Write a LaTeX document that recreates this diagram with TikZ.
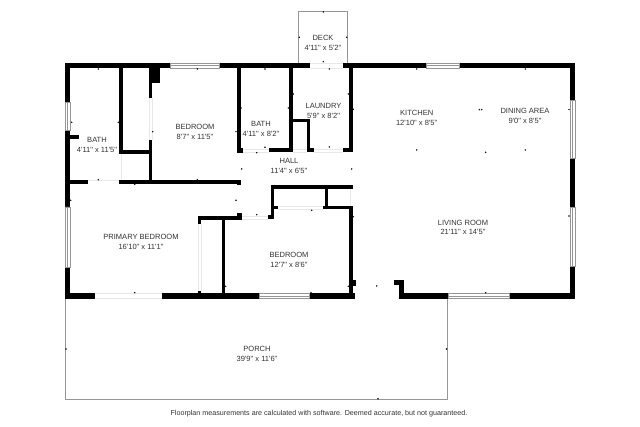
\documentclass[tikz,border=0pt]{standalone}
\usepackage{fontspec}
\setmainfont{Liberation Sans}[Ligatures=TeXOff]
\usepackage{tikz}

\tikzset{
	wall/.style={fill=black},
	pane/.style={draw={rgb, 255:red, 150; green, 150; blue, 150 },fill=white,line width=0.45},
	outline/.style={draw={rgb, 255:red, 150; green, 150; blue, 150 },line width=0.6},
	sill/.style={draw={rgb, 255:red, 232; green, 232; blue, 232 },line width=0.4},
	tick/.style={fill=black},
	room/.style={align=center,inner sep=0pt,text={rgb, 255:red, 50; green, 50; blue, 50 },font=\fontsize{5.65}{7.3}\selectfont},
}

\begin{document}
\begin{tikzpicture}[x=0.75pt,y=0.75pt,yscale=-1,xscale=1]
	\useasboundingbox (0,0) rectangle (640,427);
	
	%Deck and porch outlines
	\draw [outline] (298.3,62.7) -- (298.3,11.5) -- (347.7,11.5) -- (347.7,62.7) ;
	\draw [outline] (65.4,298) -- (65.4,399) -- (447.5,399) -- (447.5,298) ;
	
	%Door sills
	\draw [sill] (95,293) -- (162,293) (95,298) -- (162,298) ;
	\draw [sill] (148.8,98) -- (148.8,140) (152,98) -- (152,140) ;
	\draw [sill] (121.5,154) -- (121.5,181) ;
	\draw [sill] (88,180.5) -- (119,180.5) ;
	\draw [sill] (242,148.8) -- (269,148.8) (242,152) -- (269,152) ;
	\draw [sill] (293,148.8) -- (307,148.8) (293,152) -- (307,152) ;
	\draw [sill] (314,148.8) -- (343,148.8) (314,152) -- (343,152) ;
	\draw [sill] (310,62.8) -- (343,62.8) (310,68) -- (343,68) ;
	\draw [sill] (278,206.3) -- (323,206.3) (278,209) -- (323,209) ;
	\draw [sill] (242,216) -- (268,216) (242,219.5) -- (268,219.5) ;
	\draw [sill] (198.4,224) -- (198.4,291) (201,224) -- (201,291) ;
	\draw [sill] (350.5,189) -- (350.5,206) ;
	
	%Outer walls
	\fill [wall] (65,62.7) rectangle (170,68.3) ;
	\fill [wall] (219,62.7) rectangle (310,68.3) ;
	\fill [wall] (342.8,62.7) rectangle (426,68.3) ;
	\fill [wall] (459,62.7) rectangle (575,68.3) ;
	\fill [wall] (65,62.7) rectangle (70,102.7) ;
	\fill [wall] (65,130) rectangle (70,207) ;
	\fill [wall] (65,267) rectangle (70,298.7) ;
	\fill [wall] (65,293.5) rectangle (95,298.7) ;
	\fill [wall] (161.7,293.5) rectangle (259.3,298.7) ;
	\fill [wall] (309.3,293.5) rectangle (354.5,298.7) ;
	\fill [wall] (399.3,293.5) rectangle (448.3,298.7) ;
	\fill [wall] (509.3,293.5) rectangle (575,298.7) ;
	\fill [wall] (570,62.7) rectangle (575,100.7) ;
	\fill [wall] (570,158.3) rectangle (575,207.7) ;
	\fill [wall] (570,266.7) rectangle (575,298.7) ;
	
	%Entry stub
	\fill [wall] (394,280) rectangle (404,285) ;
	\fill [wall] (399.3,280) rectangle (404,298.7) ;
	
	%Left bath and closet
	\fill [wall] (70,135) rectangle (78.7,138.7) ;
	\fill [wall] (119,68) rectangle (122.5,154) ;
	\fill [wall] (119,150) rectangle (152,154) ;
	\fill [wall] (148.7,68) rectangle (152,97.7) ;
	\fill [wall] (148.7,68) rectangle (160,83.3) ;
	\fill [wall] (148.7,140) rectangle (152,182) ;
	\fill [wall] (70,180.5) rectangle (88.3,184.5) ;
	\fill [wall] (118.7,180.5) rectangle (240.7,184.5) ;
	\fill [wall] (237,180) rectangle (240.7,185.3) ;
	
	%Middle bath and laundry
	\fill [wall] (237.3,68) rectangle (241,152.7) ;
	\fill [wall] (237.3,148.5) rectangle (242.7,152.7) ;
	\fill [wall] (289.3,68) rectangle (292.7,152) ;
	\fill [wall] (269.3,148.3) rectangle (293.3,152) ;
	\fill [wall] (292.7,118.7) rectangle (310.3,122) ;
	\fill [wall] (307,118.7) rectangle (310.3,152) ;
	\fill [wall] (306.7,148.3) rectangle (314,152) ;
	\fill [wall] (349.3,68) rectangle (352.7,152) ;
	\fill [wall] (342.8,148.3) rectangle (352.7,152) ;
	
	%Hall closet and lower bedroom
	\fill [wall] (271,185) rectangle (352.7,188.7) ;
	\fill [wall] (271,185) rectangle (274.3,219.3) ;
	\fill [wall] (268.3,215) rectangle (274.3,219.3) ;
	\fill [wall] (274,206) rectangle (277.7,209.3) ;
	\fill [wall] (325,188.7) rectangle (328.3,209.3) ;
	\fill [wall] (322.7,206) rectangle (352.7,209.3) ;
	\fill [wall] (349.3,206) rectangle (352.7,298.7) ;
	\fill [wall] (352.7,280) rectangle (356,286) ;
	\fill [wall] (222,217.7) rectangle (225.3,294) ;
	\fill [wall] (197.7,215.7) rectangle (241.7,220) ;
	\fill [wall] (197.7,215.7) rectangle (201.3,224.3) ;
	\fill [wall] (236.7,212.7) rectangle (241.7,219.3) ;
	\fill [wall] (197.7,291) rectangle (201.3,294) ;
	
	%Windows
	\draw [pane] (170,62.9) rectangle (219,68.1) (170,65.5) -- (219,65.5) ;
	\draw [pane] (426,62.9) rectangle (459,68.1) (426,65.5) -- (459,65.5) ;
	\draw [pane] (259.3,293.7) rectangle (309.3,298.5) (259.3,296.1) -- (309.3,296.1) ;
	\draw [pane] (448.3,293.7) rectangle (509.3,298.5) (448.3,296.1) -- (509.3,296.1) ;
	\draw [pane] (65.2,102.7) rectangle (69.8,130) (67.5,102.7) -- (67.5,130) ;
	\draw [pane] (65.2,207) rectangle (69.8,267) (67.5,207) -- (67.5,267) ;
	\draw [pane] (570.2,100.7) rectangle (574.8,158.3) (572.5,100.7) -- (572.5,158.3) ;
	\draw [pane] (570.2,207.7) rectangle (574.8,266.7) (572.5,207.7) -- (572.5,266.7) ;
	
	%Measurement ticks
	\fill [tick] (98.3,69) circle (0.8) (197.3,69) circle (0.8) (265,69) circle (0.8) (329.3,69) circle (0.8) (416.7,69) circle (0.8) (525.3,69) circle (0.8) ;
	\fill [tick] (323.3,12) circle (0.8) (299.3,37.3) circle (0.8) (346.7,37.3) circle (0.8) (323.3,61.7) circle (0.8) ;
	\fill [tick] (71.7,122.3) circle (0.8) (118.3,122.3) circle (0.8) (152.7,131.7) circle (0.8) (236,131.7) circle (0.8) ;
	\fill [tick] (241,108) circle (0.8) (288.3,108) circle (0.8) (293.3,94) circle (0.8) (348.3,94) circle (0.8) (353.3,109.3) circle (0.8) ;
	\fill [tick] (265,147.3) circle (0.8) (256.7,152.7) circle (0.8) (329.3,147) circle (0.8) (241.7,169) circle (0.8) (351.7,169) circle (0.8) ;
	\fill [tick] (98.3,179.7) circle (0.8) (197.3,179.7) circle (0.8) (134.7,184.3) circle (0.8) ;
	\fill [tick] (70.7,200.3) circle (0.8) (236,200.3) circle (0.8) (256.7,214.7) circle (0.8) (311.7,210.3) circle (0.8) (353.3,216.7) circle (0.8) ;
	\fill [tick] (225.7,286.3) circle (0.8) (348.3,286.3) circle (0.8) (134.7,292.7) circle (0.8) (311,292.7) circle (0.8) ;
	\fill [tick] (479.3,109.7) circle (0.8) (481.7,109.7) circle (0.8) (569,109.7) circle (0.8) (416.7,150) circle (0.8) (485.7,152.3) circle (0.8) (525.3,150) circle (0.8) ;
	\fill [tick] (569,216) circle (0.8) (376.7,286) circle (0.8) (485.7,292.7) circle (0.8) ;
	\fill [tick] (66,349) circle (0.8) (446.5,349) circle (0.8) (378,398.8) circle (0.8) ;
	
	%Room labels
	\node [room] (deck) at (323,43) {DECK\\4'11" x 5'2"};
	\node [room] (bathleft) at (97,145) {BATH\\4'11" x 11'5"};
	\node [room] (bedroomtop) at (195,132) {BEDROOM\\8'7" x 11'5"};
	\node [room] (bathmid) at (261,129) {BATH\\4'11" x 8'2"};
	\node [room] (laundry) at (323.5,111) {LAUNDRY\\5'9" x 8'2"};
	\node [room] (hall) at (289,166) {HALL\\11'4" x 6'5"};
	\node [room] (kitchen) at (416.7,118) {KITCHEN\\12'10" x 8'5"};
	\node [room] (dining) at (525,116) {DINING AREA\\9'0" x 8'5"};
	\node [room] (living) at (463,227.5) {LIVING ROOM\\21'11" x 14'5"};
	\node [room] (primary) at (141,242) {PRIMARY BEDROOM\\16'10" x 11'1"};
	\node [room] (bedroomlow) at (289,260) {BEDROOM\\12'7" x 8'6"};
	\node [room] (porch) at (257,354) {PORCH\\39'9" x 11'6"};
	\node [room,font=\fontsize{5.37}{7}\selectfont] (disclaimer) at (319,414) {Floorplan measurements are calculated with software. Deemed accurate, but not guaranteed.};
\end{tikzpicture}
\end{document}
